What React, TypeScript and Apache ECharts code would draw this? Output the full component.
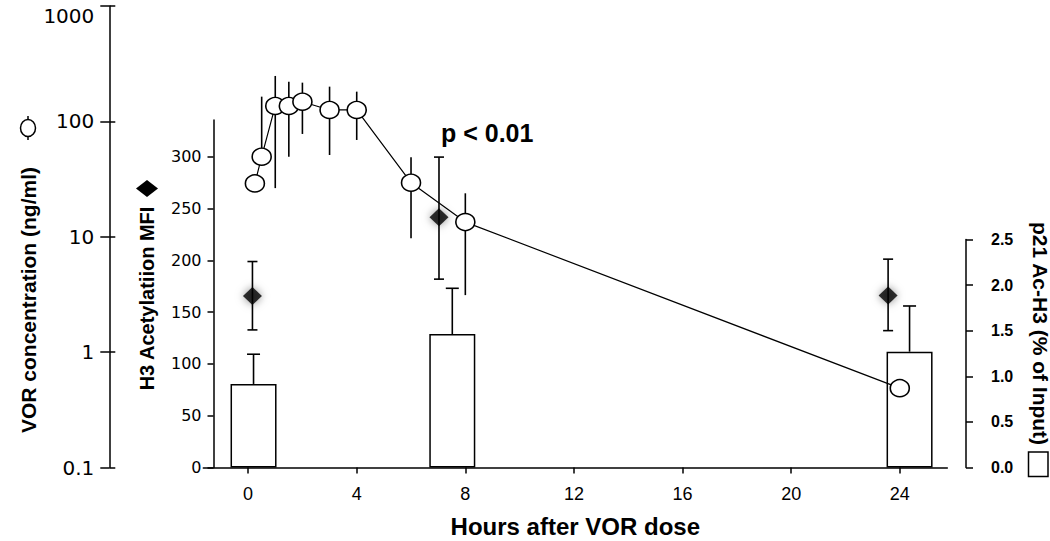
import React, { useEffect, useRef } from "react";
import * as echarts from "echarts";

// ---- data ----
const vorHours = [0.25, 0.5, 1, 1.5, 2, 3, 4, 6, 8, 24];
const vorConc = [29.0, 49.4, 136, 136, 148, 125.6, 125.6, 29.4, 13.4, 0.487];
const vorUpper: (number | null)[] = [null, 163.8, 247.6, 221, 216.6, 200, 181, 48.8, 23.8, null];
const vorLower: (number | null)[] = [null, null, 26.4, 49.4, 77.8, 51.1, 69, 9.7, 3.12, null];

const h3Hours = [0.16, 7.03, 23.57];
const h3Mfi = [165.6, 241.6, 165.9];
const h3Upper = [198.8, 299.6, 201.1];
const h3Lower = [132.8, 181.8, 132.1];

const p21Hours = [0.2, 7.52, 24.36];
const p21Input = [0.916, 1.464, 1.27];
const p21Upper = [1.242, 1.965, 1.771];

const xTicks = [0, 4, 8, 12, 16, 20, 24];
const mfiTicks = [0, 50, 100, 150, 200, 250, 300];

const SANS = '"Liberation Sans", Arial, Helvetica, sans-serif';
const DEJAVU = '"DejaVu Sans", Verdana, sans-serif';

function errorSeries(
  xIdx: number,
  yIdx: number,
  xs: number[],
  mid: number[],
  hi: (number | null)[],
  lo: (number | null)[] | null,
  cap: number,
  z: number
) {
  const data: number[][] = [];
  xs.forEach((x, i) => {
    const h = hi[i];
    if (h == null) return;
    const l = lo ? lo[i] : null;
    data.push([x, h, l == null ? mid[i] : l, l == null ? 0 : 1]);
  });
  return {
    type: "custom",
    xAxisIndex: xIdx,
    yAxisIndex: yIdx,
    z,
    silent: true,
    encode: { x: 0, y: [1, 2] },
    data,
    renderItem: (_p: any, api: any) => {
      const x = api.value(0);
      const top = api.coord([x, api.value(1)]);
      const bot = api.coord([x, api.value(2)]);
      const hasLow = api.value(3) === 1;
      const st = { stroke: "#000", lineWidth: 1.6 };
      const children: any[] = [
        { type: "line", shape: { x1: top[0], y1: top[1], x2: bot[0], y2: bot[1] }, style: st },
      ];
      if (cap > 0) {
        children.push({
          type: "line",
          shape: { x1: top[0] - cap / 2, y1: top[1], x2: top[0] + cap / 2, y2: top[1] },
          style: st,
        });
        if (hasLow) {
          children.push({
            type: "line",
            shape: { x1: bot[0] - cap / 2, y1: bot[1], x2: bot[0] + cap / 2, y2: bot[1] },
            style: st,
          });
        }
      }
      return { type: "group", children };
    },
  };
}

export default function App() {
  const ref = useRef<HTMLDivElement>(null);
  useEffect(() => {
    if (!ref.current) return;
    const chart = echarts.init(ref.current, null, { renderer: "svg" });
    const L = 203.3;
    const R = 1050 - 947.3;
    const B = 73.5;
    const XMIN = -1.65;
    const XMAX = 25.75;
    const black = { color: "#000", width: 1.5 };

    const xAxes = [0, 1, 2].map((i) => ({
      type: "value",
      gridIndex: i,
      min: XMIN,
      max: XMAX,
      show: i === 2,
      splitLine: { show: false },
      axisLine: { show: true, onZero: false, lineStyle: black },
      axisTick: { show: true, customValues: xTicks, length: 6, lineStyle: black },
      axisLabel: {
        show: true,
        customValues: xTicks,
        fontFamily: SANS,
        fontSize: 18,
        color: "#000",
        margin: 17,
      },
      name: i === 2 ? "Hours after VOR dose" : "",
      nameLocation: "middle",
      nameGap: 47,
      nameTextStyle: { fontFamily: SANS, fontSize: 24, fontWeight: "bold", color: "#000" },
    }));

    const option: any = {
      animation: false,
      textStyle: { fontFamily: SANS },
      grid: [
        { left: L, right: R, top: 6, bottom: B },
        { left: L, right: R, top: 120, bottom: B },
        { left: L, right: R, top: 239.5, bottom: B },
      ],
      xAxis: xAxes,
      yAxis: [
        {
          type: "log",
          logBase: 10,
          gridIndex: 0,
          min: 0.1,
          max: 1000,
          position: "left",
          offset: 94,
          splitLine: { show: false },
          axisLine: { show: true, onZero: false, lineStyle: black },
          axisTick: { show: true, length: 9, lineStyle: black },
          axisLabel: {
            fontFamily: DEJAVU,
            fontSize: 20,
            color: "#000",
            margin: 15,
            verticalAlignMaxLabel: "top",
            formatter: (v: number) => (v < 1 ? "0.1" : String(Math.round(v))),
          },
        },
        {
          type: "log",
          logBase: 10,
          gridIndex: 0,
          min: 0.1,
          max: 1000,
          position: "left",
          offset: 94,
          splitLine: { show: false },
          axisLine: { show: false, onZero: false },
          axisTick: { show: true, inside: true, length: 6, lineStyle: black },
          axisLabel: { show: false },
        },
        {
          type: "value",
          gridIndex: 1,
          min: 0,
          max: 335.4,
          position: "left",
          offset: -10.2,
          splitLine: { show: false },
          axisLine: { show: true, onZero: false, lineStyle: black },
          axisTick: { show: true, customValues: mfiTicks, length: 6, lineStyle: black },
          axisLabel: {
            customValues: mfiTicks,
            fontFamily: DEJAVU,
            fontSize: 16,
            color: "#000",
            margin: 12,
          },
        },
        {
          type: "value",
          gridIndex: 2,
          min: 0,
          max: 2.5,
          interval: 0.5,
          position: "right",
          offset: 18.7,
          splitLine: { show: false },
          axisLine: { show: true, onZero: false, lineStyle: black },
          axisTick: { show: true, length: 7, lineStyle: black },
          axisLabel: {
            fontFamily: SANS,
            fontSize: 16,
            fontWeight: "bold",
            color: "#000",
            margin: 25,
            formatter: (v: number) => v.toFixed(1),
          },
        },
      ],
      series: [
        {
          type: "bar",
          xAxisIndex: 2,
          yAxisIndex: 3,
          z: 1,
          barWidth: 46,
          data: p21Hours.map((h, i) => [h, p21Input[i]]),
          itemStyle: { color: "#fff", borderColor: "#000", borderWidth: 1.5 },
        },
        errorSeries(2, 3, p21Hours, p21Input, p21Upper, null, 13, 2),
        errorSeries(0, 0, vorHours, vorConc, vorUpper, vorLower, 0, 2),
        {
          type: "line",
          xAxisIndex: 0,
          yAxisIndex: 0,
          z: 3,
          data: vorHours.map((h, i) => [h, vorConc[i]]),
          symbol: "circle",
          symbolSize: [19, 17],
          showSymbol: true,
          lineStyle: { color: "#000", width: 1.2 },
          itemStyle: { color: "#fff", borderColor: "#000", borderWidth: 1.5 },
        },
        errorSeries(1, 2, h3Hours, h3Mfi, h3Upper, h3Lower, 10, 4),
        {
          type: "scatter",
          xAxisIndex: 1,
          yAxisIndex: 2,
          z: 5,
          data: h3Hours.map((h, i) => [h, h3Mfi[i]]),
          symbol: "diamond",
          symbolSize: [19, 18],
          itemStyle: { color: "#000", shadowBlur: 8, shadowColor: "rgba(0,0,0,0.55)" },
        },
      ],
      graphic: [
        {
          type: "text",
          x: 28,
          y: 300,
          rotation: Math.PI / 2,
          style: {
            text: "VOR concentration (ng/ml)",
            fontFamily: SANS,
            fontWeight: "bold",
            fontSize: 21,
            fill: "#000",
            align: "center",
            verticalAlign: "middle",
          },
        },
        {
          type: "line",
          shape: { x1: 28, y1: 116, x2: 28, y2: 140 },
          style: { stroke: "#000", lineWidth: 1.5 },
        },
        {
          type: "ellipse",
          shape: { cx: 28, cy: 128, rx: 7.5, ry: 8.5 },
          style: { fill: "#fff", stroke: "#000", lineWidth: 1.5 },
        },
        {
          type: "text",
          x: 147,
          y: 298.5,
          rotation: Math.PI / 2,
          style: {
            text: "H3 Acetylatiion MFI",
            fontFamily: SANS,
            fontWeight: "bold",
            fontSize: 20,
            fill: "#000",
            align: "center",
            verticalAlign: "middle",
          },
        },
        {
          type: "polygon",
          shape: {
            points: [
              [147, 180],
              [158, 188.5],
              [147, 197],
              [136, 188.5],
            ],
          },
          style: { fill: "#000" },
        },
        {
          type: "text",
          x: 1040,
          y: 333.5,
          rotation: -Math.PI / 2,
          style: {
            text: "p21 Ac-H3 (% of Input)",
            fontFamily: SANS,
            fontWeight: "bold",
            fontSize: 21,
            fill: "#000",
            align: "center",
            verticalAlign: "middle",
          },
        },
        {
          type: "rect",
          shape: { x: 1028.5, y: 452, width: 19.5, height: 24.5 },
          style: { fill: "#fff", stroke: "#000", lineWidth: 1.5 },
        },
        {
          type: "text",
          x: 441,
          y: 132.5,
          style: {
            text: "p < 0.01",
            fontFamily: SANS,
            fontWeight: "bold",
            fontSize: 25,
            fill: "#000",
            align: "left",
            verticalAlign: "middle",
          },
        },
      ],
    };
    chart.setOption(option);
    return () => chart.dispose();
  }, []);
  return (
    <div
      ref={ref}
      style={{ position: "absolute", left: 0, top: 0, width: 1050, height: 541, background: "#fff" }}
    />
  );
}
